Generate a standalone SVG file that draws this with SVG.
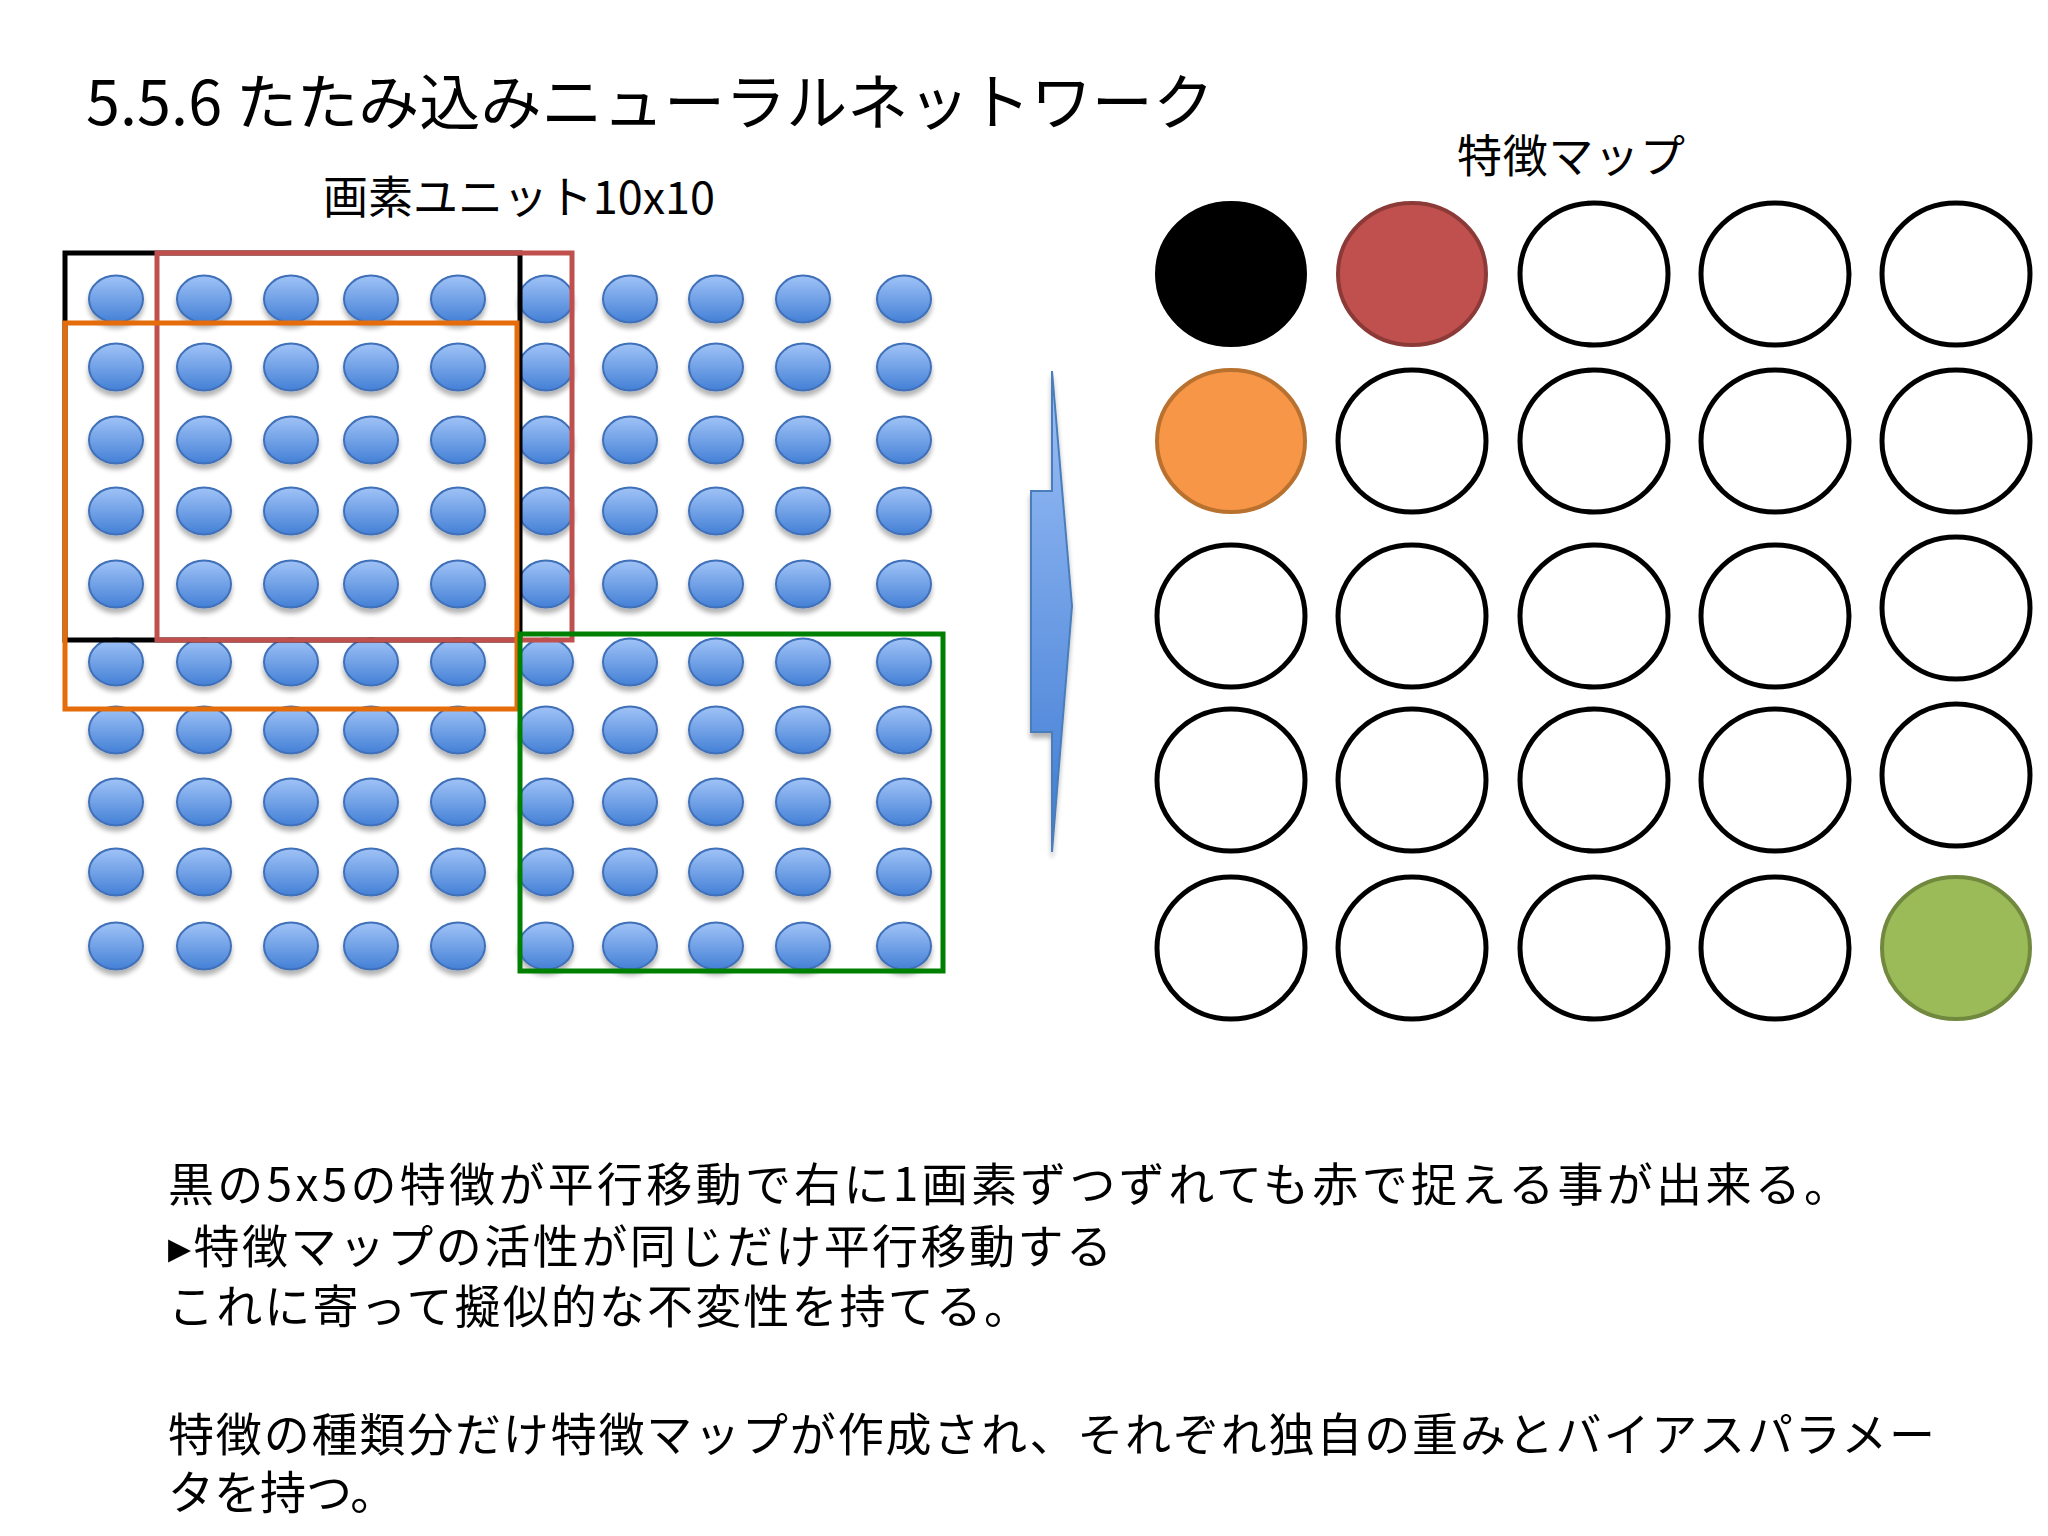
<svg xmlns="http://www.w3.org/2000/svg" xmlns:xlink="http://www.w3.org/1999/xlink" width="2048" height="1536" viewBox="0 0 2048 1536">
<style>
text{font-family:"Noto Sans CJK JP","Noto Sans",sans-serif;fill:#000}
.title{font-size:61px}
.lbl{font-size:45px}
.body{font-size:46px}
.win{fill:none;stroke-width:5}
.fm{fill:#fff;stroke:#000;stroke-width:5}
</style>
<defs>
<linearGradient id="gBlue" x1="0" y1="0" x2="0" y2="1">
<stop offset="0" stop-color="#a0c3f7"/>
<stop offset="1" stop-color="#4480d6"/>
</linearGradient>
<linearGradient id="gArrow" x1="0" y1="0" x2="0" y2="1">
<stop offset="0" stop-color="#9cc0f7"/>
<stop offset="1" stop-color="#3f7bd3"/>
</linearGradient>
<filter id="sh" x="-30%" y="-30%" width="160%" height="180%">
<feGaussianBlur in="SourceAlpha" stdDeviation="2.5"/>
<feOffset dy="5" result="b"/>
<feComponentTransfer><feFuncA type="linear" slope="0.3"/></feComponentTransfer>
<feMerge><feMergeNode/><feMergeNode in="SourceGraphic"/></feMerge>
</filter>
<ellipse id="dot" cx="0" cy="0" rx="27" ry="23.5" fill="url(#gBlue)" stroke="#3f6fb8" stroke-width="2"/>
</defs>
<rect width="2048" height="1536" fill="#fff"/>

<g id="title"><text class="title" x="86" y="125" textLength="1128">5.5.6 たたみ込みニューラルネットワーク</text></g>
<g id="label-pixels"><text class="lbl" x="323" y="214" textLength="392">画素ユニット10x10</text></g>
<g id="label-fmap"><text class="lbl" x="1457" y="173" textLength="228">特徴マップ</text></g>

<g id="pixel-grid" filter="url(#sh)">
<g id="row1"><use xlink:href="#dot" x="116" y="299"/><use xlink:href="#dot" x="204" y="299"/><use xlink:href="#dot" x="291" y="299"/><use xlink:href="#dot" x="371" y="299"/><use xlink:href="#dot" x="458" y="299"/><use xlink:href="#dot" x="546" y="299"/><use xlink:href="#dot" x="630" y="299"/><use xlink:href="#dot" x="716" y="299"/><use xlink:href="#dot" x="803" y="299"/><use xlink:href="#dot" x="904" y="299"/></g>
<g id="row2"><use xlink:href="#dot" x="116" y="367"/><use xlink:href="#dot" x="204" y="367"/><use xlink:href="#dot" x="291" y="367"/><use xlink:href="#dot" x="371" y="367"/><use xlink:href="#dot" x="458" y="367"/><use xlink:href="#dot" x="546" y="367"/><use xlink:href="#dot" x="630" y="367"/><use xlink:href="#dot" x="716" y="367"/><use xlink:href="#dot" x="803" y="367"/><use xlink:href="#dot" x="904" y="367"/></g>
<g id="row3"><use xlink:href="#dot" x="116" y="440"/><use xlink:href="#dot" x="204" y="440"/><use xlink:href="#dot" x="291" y="440"/><use xlink:href="#dot" x="371" y="440"/><use xlink:href="#dot" x="458" y="440"/><use xlink:href="#dot" x="546" y="440"/><use xlink:href="#dot" x="630" y="440"/><use xlink:href="#dot" x="716" y="440"/><use xlink:href="#dot" x="803" y="440"/><use xlink:href="#dot" x="904" y="440"/></g>
<g id="row4"><use xlink:href="#dot" x="116" y="511"/><use xlink:href="#dot" x="204" y="511"/><use xlink:href="#dot" x="291" y="511"/><use xlink:href="#dot" x="371" y="511"/><use xlink:href="#dot" x="458" y="511"/><use xlink:href="#dot" x="546" y="511"/><use xlink:href="#dot" x="630" y="511"/><use xlink:href="#dot" x="716" y="511"/><use xlink:href="#dot" x="803" y="511"/><use xlink:href="#dot" x="904" y="511"/></g>
<g id="row5"><use xlink:href="#dot" x="116" y="584"/><use xlink:href="#dot" x="204" y="584"/><use xlink:href="#dot" x="291" y="584"/><use xlink:href="#dot" x="371" y="584"/><use xlink:href="#dot" x="458" y="584"/><use xlink:href="#dot" x="546" y="584"/><use xlink:href="#dot" x="630" y="584"/><use xlink:href="#dot" x="716" y="584"/><use xlink:href="#dot" x="803" y="584"/><use xlink:href="#dot" x="904" y="584"/></g>
<g id="row6"><use xlink:href="#dot" x="116" y="662"/><use xlink:href="#dot" x="204" y="662"/><use xlink:href="#dot" x="291" y="662"/><use xlink:href="#dot" x="371" y="662"/><use xlink:href="#dot" x="458" y="662"/><use xlink:href="#dot" x="546" y="662"/><use xlink:href="#dot" x="630" y="662"/><use xlink:href="#dot" x="716" y="662"/><use xlink:href="#dot" x="803" y="662"/><use xlink:href="#dot" x="904" y="662"/></g>
<g id="row7"><use xlink:href="#dot" x="116" y="730"/><use xlink:href="#dot" x="204" y="730"/><use xlink:href="#dot" x="291" y="730"/><use xlink:href="#dot" x="371" y="730"/><use xlink:href="#dot" x="458" y="730"/><use xlink:href="#dot" x="546" y="730"/><use xlink:href="#dot" x="630" y="730"/><use xlink:href="#dot" x="716" y="730"/><use xlink:href="#dot" x="803" y="730"/><use xlink:href="#dot" x="904" y="730"/></g>
<g id="row8"><use xlink:href="#dot" x="116" y="802"/><use xlink:href="#dot" x="204" y="802"/><use xlink:href="#dot" x="291" y="802"/><use xlink:href="#dot" x="371" y="802"/><use xlink:href="#dot" x="458" y="802"/><use xlink:href="#dot" x="546" y="802"/><use xlink:href="#dot" x="630" y="802"/><use xlink:href="#dot" x="716" y="802"/><use xlink:href="#dot" x="803" y="802"/><use xlink:href="#dot" x="904" y="802"/></g>
<g id="row9"><use xlink:href="#dot" x="116" y="872"/><use xlink:href="#dot" x="204" y="872"/><use xlink:href="#dot" x="291" y="872"/><use xlink:href="#dot" x="371" y="872"/><use xlink:href="#dot" x="458" y="872"/><use xlink:href="#dot" x="546" y="872"/><use xlink:href="#dot" x="630" y="872"/><use xlink:href="#dot" x="716" y="872"/><use xlink:href="#dot" x="803" y="872"/><use xlink:href="#dot" x="904" y="872"/></g>
<g id="row10"><use xlink:href="#dot" x="116" y="946"/><use xlink:href="#dot" x="204" y="946"/><use xlink:href="#dot" x="291" y="946"/><use xlink:href="#dot" x="371" y="946"/><use xlink:href="#dot" x="458" y="946"/><use xlink:href="#dot" x="546" y="946"/><use xlink:href="#dot" x="630" y="946"/><use xlink:href="#dot" x="716" y="946"/><use xlink:href="#dot" x="803" y="946"/><use xlink:href="#dot" x="904" y="946"/></g>
</g>

<g id="windows">
<rect id="win-black" class="win" x="65" y="253" width="455" height="387" stroke="#000"/>
<rect id="win-red" class="win" x="157" y="253" width="415" height="387" stroke="#c0504d"/>
<rect id="win-orange" class="win" x="65" y="323" width="452" height="386" stroke="#e46c0a"/>
<rect id="win-green" class="win" x="520" y="634" width="423" height="337" stroke="#008000"/>
</g>

<g id="connectors">
<polygon id="arrow" points="1052,371 1072,606 1052,852 1052,732 1031,732 1031,491 1052,491" fill="url(#gArrow)" stroke="#4a7ebb" stroke-width="2" filter="url(#sh)"/>
</g>

<g id="feature-map">
<g id="fm-r1">
<ellipse cx="1231" cy="274" rx="75" ry="72" fill="#000" stroke="#000" stroke-width="2"/>
<ellipse cx="1412" cy="274" rx="74" ry="71" fill="#c0504d" stroke="#8c3a38" stroke-width="4"/>
<ellipse class="fm" cx="1594" cy="274" rx="74" ry="71"/>
<ellipse class="fm" cx="1775" cy="274" rx="74" ry="71"/>
<ellipse class="fm" cx="1956" cy="274" rx="74" ry="71"/>
</g>
<g id="fm-r2">
<ellipse cx="1231" cy="441" rx="74" ry="71" fill="#f79646" stroke="#b9712f" stroke-width="4"/>
<ellipse class="fm" cx="1412" cy="441" rx="74" ry="71"/>
<ellipse class="fm" cx="1594" cy="441" rx="74" ry="71"/>
<ellipse class="fm" cx="1775" cy="441" rx="74" ry="71"/>
<ellipse class="fm" cx="1956" cy="441" rx="74" ry="71"/>
</g>
<g id="fm-r3">
<ellipse class="fm" cx="1231" cy="616" rx="74" ry="71"/>
<ellipse class="fm" cx="1412" cy="616" rx="74" ry="71"/>
<ellipse class="fm" cx="1594" cy="616" rx="74" ry="71"/>
<ellipse class="fm" cx="1775" cy="616" rx="74" ry="71"/>
<ellipse class="fm" cx="1956" cy="608" rx="74" ry="71"/>
</g>
<g id="fm-r4">
<ellipse class="fm" cx="1231" cy="780" rx="74" ry="71"/>
<ellipse class="fm" cx="1412" cy="780" rx="74" ry="71"/>
<ellipse class="fm" cx="1594" cy="780" rx="74" ry="71"/>
<ellipse class="fm" cx="1775" cy="780" rx="74" ry="71"/>
<ellipse class="fm" cx="1956" cy="775" rx="74" ry="71"/>
</g>
<g id="fm-r5">
<ellipse class="fm" cx="1231" cy="948" rx="74" ry="71"/>
<ellipse class="fm" cx="1412" cy="948" rx="74" ry="71"/>
<ellipse class="fm" cx="1594" cy="948" rx="74" ry="71"/>
<ellipse class="fm" cx="1775" cy="948" rx="74" ry="71"/>
<ellipse cx="1956" cy="948" rx="74" ry="71" fill="#9bbb59" stroke="#71893f" stroke-width="4"/>
</g>
</g>

<g id="body-text">
<text class="body" x="168" y="1201" textLength="1682">黒の5x5の特徴が平行移動で右に1画素ずつずれても赤で捉える事が出来る。</text>
<text class="body" x="168" y="1263" textLength="944">▸特徴マップの活性が同じだけ平行移動する</text>
<text class="body" x="168" y="1323" textLength="862">これに寄って擬似的な不変性を持てる。</text>
<text class="body" x="168" y="1451" textLength="1767">特徴の種類分だけ特徴マップが作成され、それぞれ独自の重みとバイアスパラメー</text>
<text class="body" x="168" y="1509">タを持つ。</text>
</g>
</svg>
